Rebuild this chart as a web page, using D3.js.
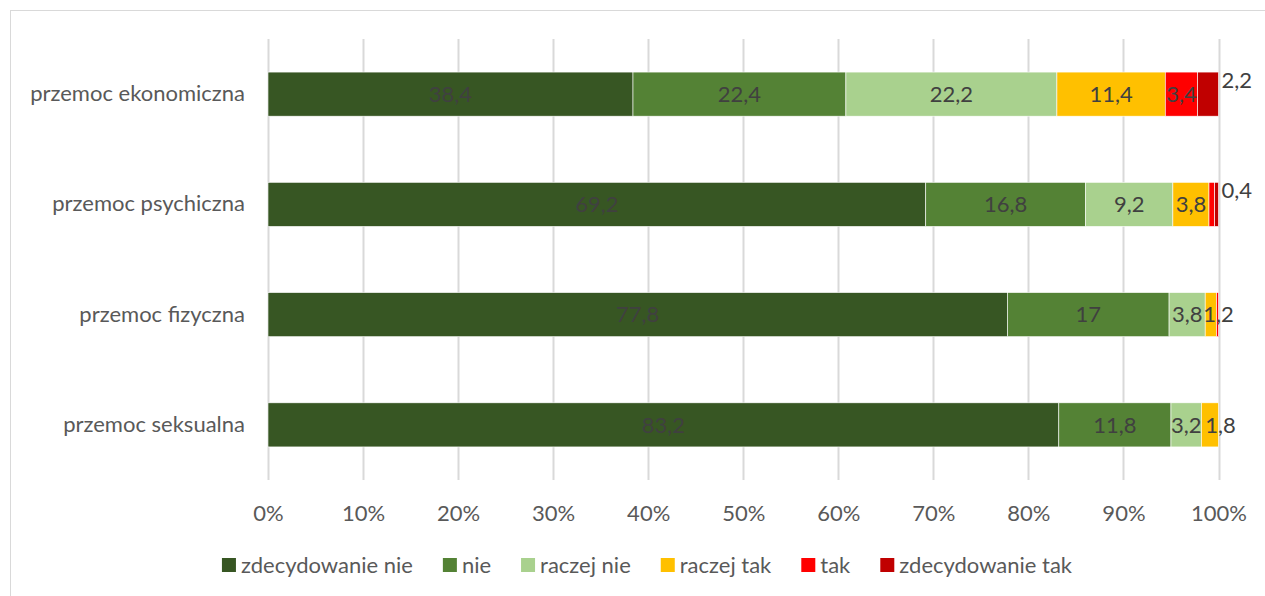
<!DOCTYPE html>
<html lang="pl">
<head>
<meta charset="UTF-8">
<title>Przemoc</title>
<script src="https://cdn.jsdelivr.net/npm/d3@7/dist/d3.min.js"></script>
<style>
  body { margin: 0; background: #fff; }
  text { font-family: Lato, "Open Sans", sans-serif; }
</style>
</head>
<body>
<svg width="1265" height="596"></svg>
<script>
// data
var categories = ["przemoc ekonomiczna", "przemoc psychiczna", "przemoc fizyczna", "przemoc seksualna"];
var seriesNames = ["zdecydowanie nie", "nie", "raczej nie", "raczej tak", "tak", "zdecydowanie tak"];
var zdecNie   = [38.4, 69.2, 77.8, 83.2];
var nie       = [22.4, 16.8, 17, 11.8];
var raczejNie = [22.2, 9.2, 3.8, 3.2];
var raczejTak = [11.4, 3.8, 1.2, 1.8];
var tak       = [3.4, 0.6, 0.2, 0];
var zdecTak   = [2.2, 0.4, 0, 0];
var tickLabels = ["0%", "10%", "20%", "30%", "40%", "50%", "60%", "70%", "80%", "90%", "100%"];
var colors = ["#375623", "#548235", "#A9D18E", "#FFC000", "#FF0000", "#C00000"];

var values = [zdecNie, nie, raczejNie, raczejTak, tak, zdecTak];
var rows = categories.map(function(c, i) {
    var r = { cat: c };
    seriesNames.forEach(function(s, j) { r[s] = values[j][i]; });
    return r;
});

var svg = d3.select("svg");
var fs = 22;

svg.append("rect")
    .attr("x", 10.5).attr("y", 10.5)
    .attr("width", 1300).attr("height", 620)
    .attr("fill", "#fff").attr("stroke", "#D9D9D9");

var plotL = 268, plotR = 1218.5, plotT = 39, plotB = 480;

var x = d3.scaleLinear().domain([0, 100]).range([plotL, plotR]);
var y = d3.scaleBand().domain(categories).range([plotT, plotB])
    .paddingInner(0.6).paddingOuter(0.3);

// gridlines
svg.append("g").selectAll("line")
    .data(d3.range(0, 101, 10))
    .join("line")
    .attr("x1", function(d) { return Math.round(x(d)) + 0.5; })
    .attr("x2", function(d) { return Math.round(x(d)) + 0.5; })
    .attr("y1", plotT).attr("y2", plotB)
    .attr("stroke", "#D9D9D9").attr("stroke-width", 2);

// x axis labels
var xAxis = svg.append("g")
    .attr("transform", "translate(0," + plotB + ")")
    .call(d3.axisBottom(x).tickValues(d3.range(0, 101, 10))
        .tickFormat(function(d, i) { return tickLabels[i]; })
        .tickSize(0).tickPadding(25));
xAxis.select(".domain").remove();
xAxis.selectAll("text").attr("font-size", fs).attr("fill", "#595959")
    .attr("font-family", "Lato, sans-serif");

// y axis labels
var yAxis = svg.append("g")
    .attr("transform", "translate(" + plotL + ",0)")
    .call(d3.axisLeft(y).tickSize(0).tickPadding(23));
yAxis.select(".domain").remove();
yAxis.selectAll("text").attr("font-size", fs).attr("fill", "#595959")
    .attr("font-family", "Lato, sans-serif");

var stacked = d3.stack().keys(seriesNames)(rows);

var layers = svg.append("g").selectAll("g")
    .data(stacked)
    .join("g")
    .attr("fill", function(d, i) { return colors[i]; });

layers.selectAll("rect")
    .data(function(d) { return d; })
    .join("rect")
    .attr("x", function(d) { return x(d[0]); })
    .attr("y", function(d) { return y(d.data.cat); })
    .attr("width", function(d) { return x(d[1]) - x(d[0]); })
    .attr("height", y.bandwidth())
    .attr("stroke", "#fff").attr("stroke-width", 0.6);

// data labels
var lastKey = seriesNames[seriesNames.length - 1];
var lbl = svg.append("g").attr("font-size", fs).attr("fill", "#404040");
stacked.forEach(function(layer) {
    layer.forEach(function(d) {
        var v = d[1] - d[0];
        var isLast = layer.key === lastKey;
        if (v <= 0.001) return;
        if (v < 1 && !isLast) return;
        var txt = String(d.data[layer.key]).replace(".", ",");
        var cy = y(d.data.cat) + y.bandwidth() / 2;
        var t = lbl.append("text").text(txt).attr("dy", "0.35em");
        var w = t.node().getComputedTextLength();
        var segW = x(d[1]) - x(d[0]);
        if (segW >= w - 2) {
            t.attr("x", (x(d[0]) + x(d[1])) / 2).attr("y", cy).attr("text-anchor", "middle");
        } else if (isLast) {
            t.attr("x", x(d[1]) + 3).attr("y", cy - 14).attr("text-anchor", "start");
        } else {
            t.attr("x", x(d[1]) + 2).attr("y", cy).attr("text-anchor", "middle");
        }
    });
});

// legend
var legend = svg.append("g").attr("transform", "translate(0,565)");
var items = legend.selectAll("g").data(seriesNames).join("g");
items.append("rect")
    .attr("y", -7).attr("width", 14).attr("height", 14)
    .attr("fill", function(d, i) { return colors[i]; });
items.append("text")
    .attr("x", 19).attr("dy", "0.35em")
    .attr("font-size", fs).attr("fill", "#595959")
    .text(function(d) { return d; });
var pos = 0, offs = [];
items.each(function() {
    offs.push(pos);
    pos += 19 + d3.select(this).select("text").node().getComputedTextLength() + 30;
});
var total = pos - 30;
var startX = 647 - total / 2;
items.attr("transform", function(d, i) { return "translate(" + (startX + offs[i]) + ",0)"; });
</script>
</body>
</html>
